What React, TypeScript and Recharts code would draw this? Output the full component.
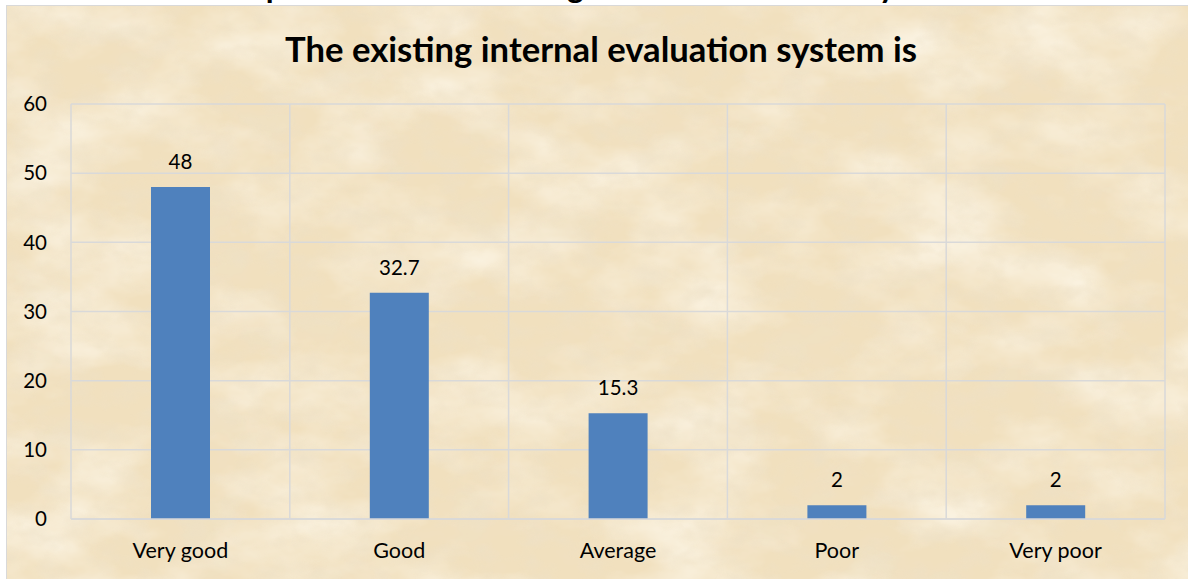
import React from 'react';
import { BarChart, Bar, XAxis, YAxis, CartesianGrid, LabelList } from 'recharts';

const categories = ['Very good', 'Good', 'Average', 'Poor', 'Very poor'];
const values = [48, 32.7, 15.3, 2, 2];
const yTicks = [0, 10, 20, 30, 40, 50, 60];
const chartTitle = 'The existing internal evaluation system is';
const clippedHeading = 'Responses on the existing internal evaluation system';

const data = categories.map((c, i) => ({ category: c, value: values[i] }));

const FONT = 'Lato, "Open Sans", sans-serif';

function Parchment() {
  return (
    <svg width="100%" height="100%" style={{ position: 'absolute', left: 0, top: 0 }}>
      <defs>
        <filter id="light" x="0" y="0" width="100%" height="100%">
          <feTurbulence type="fractalNoise" baseFrequency="0.008 0.014" numOctaves="5" seed="7" />
          <feColorMatrix type="matrix" values="0 0 0 0 0.98  0 0 0 0 0.93  0 0 0 0 0.82  1.8 0 0 0 -0.75" />
        </filter>
        <filter id="dark" x="0" y="0" width="100%" height="100%">
          <feTurbulence type="fractalNoise" baseFrequency="0.012 0.02" numOctaves="5" seed="19" />
          <feColorMatrix type="matrix" values="0 0 0 0 0.86  0 0 0 0 0.76  0 0 0 0 0.58  0 -1.6 0 0 0.75" />
        </filter>
        <filter id="grain" x="0" y="0" width="100%" height="100%">
          <feTurbulence type="fractalNoise" baseFrequency="0.035 0.05" numOctaves="3" seed="4" />
          <feColorMatrix type="matrix" values="0 0 0 0 0.85  0 0 0 0 0.75  0 0 0 0 0.57  0 0 2.2 0 -0.95" />
        </filter>
      </defs>
      <rect width="100%" height="100%" fill="#F1E0BE" />
      <rect width="100%" height="100%" filter="url(#dark)" />
      <rect width="100%" height="100%" filter="url(#light)" />
      <rect width="100%" height="100%" filter="url(#grain)" opacity={0.6} />
    </svg>
  );
}

export default function App() {
  const n = categories.length;
  return (
    <div style={{ position: 'absolute', left: 0, top: 0, width: 1188, height: 579, overflow: 'hidden', background: '#ffffff', fontFamily: FONT }}>
      <svg width={1188} height={6} style={{ position: 'absolute', left: 0, top: 0 }}>
        <text x={590} y={-2} textAnchor="middle" textLength={750} lengthAdjust="spacingAndGlyphs"
          fontFamily={FONT} fontWeight={700} fontSize={32} fill="#000">{clippedHeading}</text>
      </svg>
      <div style={{ position: 'absolute', left: 6, top: 5, width: 1230, height: 640, border: '1px solid #D9D9D9', overflow: 'hidden' }}>
        <Parchment />
      </div>
      <svg width={1188} height={579} style={{ position: 'absolute', left: 0, top: 0 }}>
        <text x={285} y={62} textLength={632} lengthAdjust="spacingAndGlyphs"
          fontFamily={FONT} fontWeight={700} fontSize={34} fill="#000">{chartTitle}</text>
      </svg>
      <div style={{ position: 'absolute', left: 0, top: 0 }}>
        <BarChart width={1188} height={579} data={data} margin={{ top: 104, right: 23, bottom: 30, left: 11 }}>
          <CartesianGrid
            stroke="#D9D9D9"
            strokeWidth={1.5}
            verticalCoordinatesGenerator={({ offset }: any) =>
              Array.from({ length: n + 1 }, (_, i) => offset.left + (i * offset.width) / n)
            }
          />
          <XAxis
            dataKey="category"
            axisLine={{ stroke: '#D9D9D9', strokeWidth: 1.5 }}
            tickLine={false}
            tickSize={0}
            tickMargin={24}
            height={30}
            interval={0}
            tick={{ fill: '#000', fontSize: 21.5, fontFamily: FONT }}
          />
          <YAxis
            domain={[0, 60]}
            ticks={yTicks}
            axisLine={false}
            tickLine={false}
            tickSize={0}
            tickMargin={24}
            width={60}
            tick={{ fill: '#000', fontSize: 20.5, fontFamily: FONT }}
          />
          <Bar dataKey="value" fill="#4F81BD" barSize={59} isAnimationActive={false}>
            <LabelList dataKey="value" position="top" offset={18} fill="#000" fontSize={20.5} fontFamily={FONT} />
          </Bar>
        </BarChart>
      </div>
    </div>
  );
}
